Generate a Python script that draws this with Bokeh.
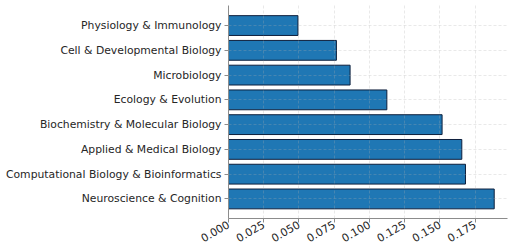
import math
from bokeh.plotting import figure
from bokeh.models import FixedTicker, Range1d, ColumnDataSource
from bokeh.embed import file_html
from bokeh.resources import INLINE

categories = [
    "Neuroscience & Cognition",
    "Computational Biology & Bioinformatics",
    "Applied & Medical Biology",
    "Biochemistry & Molecular Biology",
    "Ecology & Evolution",
    "Microbiology",
    "Cell & Developmental Biology",
    "Physiology & Immunology",
]
values = [0.1886, 0.1682, 0.1656, 0.1516, 0.1124, 0.0863, 0.0766, 0.0493]
x_ticks = [0.0, 0.025, 0.05, 0.075, 0.1, 0.125, 0.15, 0.175]

pos = list(range(len(categories)))
src = ColumnDataSource(dict(y=pos, v=values, cat=categories))

p = figure(width=512, height=248, output_backend="svg", toolbar_location=None,
           x_range=Range1d(0, max(values) * 1.05), y_range=Range1d(-0.79, 7.81),
           min_border_left=228, min_border_right=5, min_border_top=5, min_border_bottom=0)
p.outline_line_color = None
p.background_fill_color = "white"
p.border_fill_color = "white"

p.hbar(y="y", right="v", left=0, height=0.8, source=src,
       fill_color="#1f77b4", line_color="#0d1f3c", line_width=1)

FONT = "DejaVu Sans"
for ax in (p.xaxis[0], p.yaxis[0]):
    ax.axis_label = None
    ax.axis_line_color = "#8c8c8c"
    ax.major_tick_line_color = "#8c8c8c"
    ax.minor_tick_line_color = None
    ax.major_tick_out = 4
    ax.major_tick_in = 0
    ax.major_label_text_font = FONT
    ax.major_label_text_font_size = "10.8px"
    ax.major_label_text_color = "#262626"
    ax.major_label_standoff = 3

p.yaxis.major_label_text_line_height = 1.0
p.xaxis.major_label_text_line_height = 0.7
p.xaxis.major_label_standoff = 1

p.yaxis.ticker = FixedTicker(ticks=pos)
p.yaxis.major_label_overrides = {i: c for i, c in zip(pos, categories)}
p.xaxis.ticker = FixedTicker(ticks=x_ticks)
p.xaxis.major_label_overrides = {t: f"{t:.3f}" for t in x_ticks}
p.xaxis.major_label_orientation = math.pi / 6

for g in (p.xgrid[0], p.ygrid[0]):
    g.grid_line_color = "#b0b0b0"
    g.grid_line_alpha = 0.35
    g.grid_line_dash = "3 2"
    g.grid_line_width = 0.8
    g.level = "overlay"
p.ygrid.ticker = FixedTicker(ticks=pos)
p.xgrid.ticker = FixedTicker(ticks=x_ticks)

open("out.html", "w").write(file_html(p, INLINE))
